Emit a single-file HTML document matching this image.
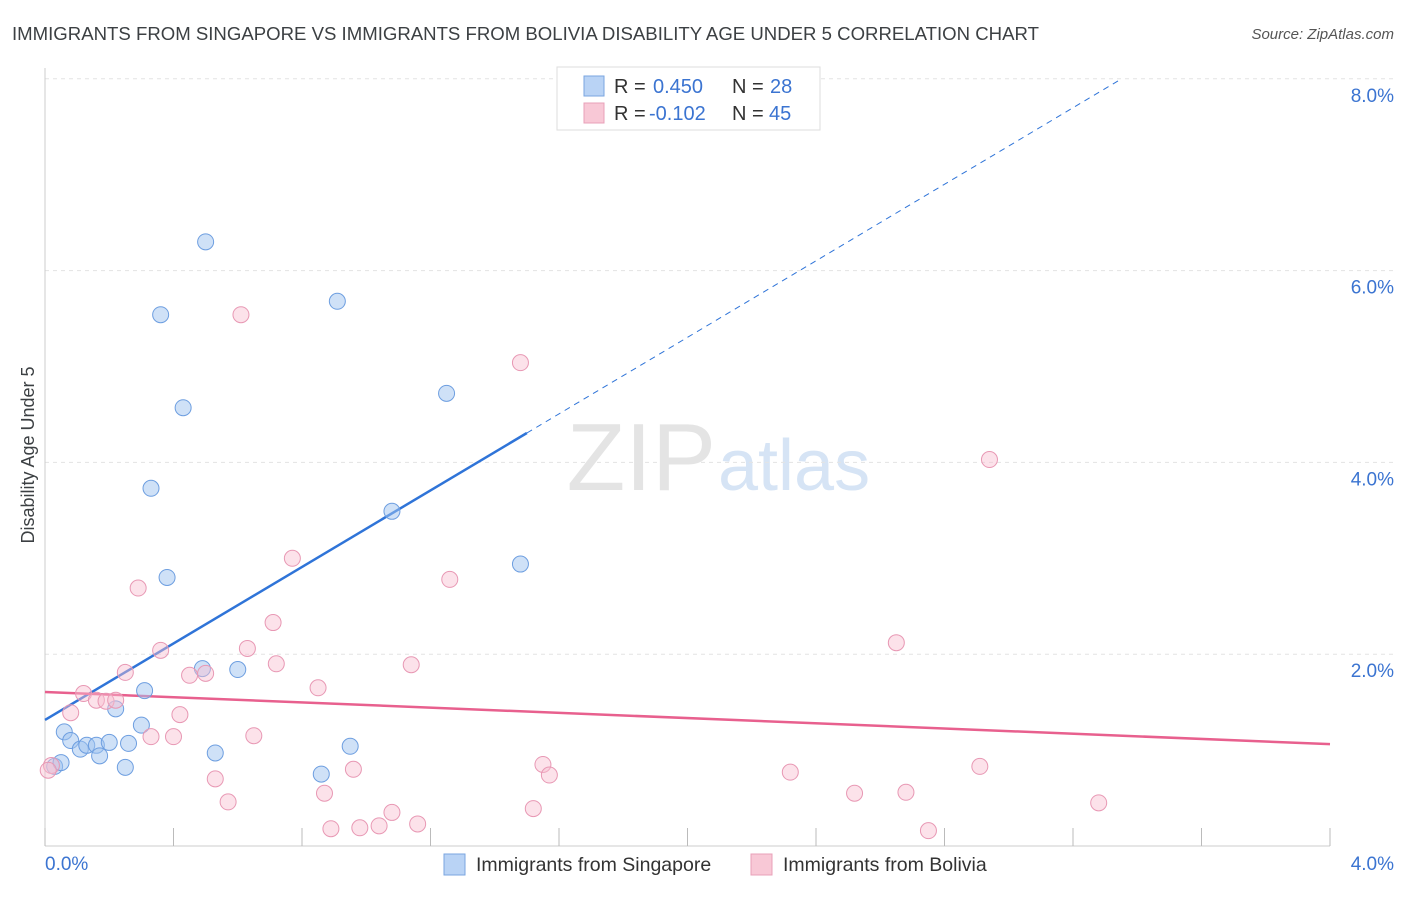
<!DOCTYPE html>
<html><head><meta charset="utf-8"><style>
body{margin:0;background:#fff;font-family:"Liberation Sans",sans-serif;}
svg text{font-family:"Liberation Sans",sans-serif;}
</style></head><body>
<svg width="1406" height="892">
<text x="12" y="40" font-size="18.6" fill="#3c4043">IMMIGRANTS FROM SINGAPORE VS IMMIGRANTS FROM BOLIVIA DISABILITY AGE UNDER 5 CORRELATION CHART</text>
<text x="1394" y="39" font-size="15" fill="#555" font-style="italic" text-anchor="end">Source: ZipAtlas.com</text>
<text x="716" y="490" font-size="96" fill="#e4e4e4" text-anchor="end" font-family="Liberation Serif">ZIP</text>
<text x="718" y="490" font-size="72" fill="#d6e4f5">atlas</text>
<g id="grid"></g><g id="axes"></g><g id="lines"></g><g id="pts"></g>
<text transform="translate(34,455) rotate(-90)" font-size="18" fill="#3c4043" text-anchor="middle">Disability Age Under 5</text>
<text x="45" y="870" font-size="19" fill="#3b74d1">0.0%</text>
<text x="1394" y="870" font-size="19" fill="#3b74d1" text-anchor="end">4.0%</text>
<g>
<rect x="557" y="67" width="263" height="63" fill="#fff" stroke="#ddd"/>
<rect x="584" y="76" width="20" height="20" fill="#b9d3f5" stroke="#7aa6e0"/>
<rect x="584" y="103" width="20" height="20" fill="#f8c8d6" stroke="#e8a0b8"/>
<text x="614" y="93" font-size="20" fill="#333">R =</text>
<text x="653" y="93" font-size="20" fill="#3b74d1">0.450</text>
<text x="732" y="93" font-size="20" fill="#333">N =</text>
<text x="770" y="93" font-size="20" fill="#3b74d1">28</text>
<text x="614" y="120" font-size="20" fill="#333">R =</text>
<text x="649" y="120" font-size="20" fill="#3b74d1">-0.102</text>
<text x="732" y="120" font-size="20" fill="#333">N =</text>
<text x="769" y="120" font-size="20" fill="#3b74d1">45</text>
</g>
<g>
<rect x="444" y="854" width="21" height="21" fill="#b9d3f5" stroke="#7aa6e0"/>
<text x="476" y="871" font-size="19.5" fill="#333">Immigrants from Singapore</text>
<rect x="751" y="854" width="21" height="21" fill="#f8c8d6" stroke="#e8a0b8"/>
<text x="783" y="871" font-size="19.5" fill="#333">Immigrants from Bolivia</text>
</g>
</svg>
<script>
const yTicks=[2,4,6,8];
const yTickLabels=["2.0%","4.0%","6.0%","8.0%"];
const sgX=[0.50,0.36,0.91,0.43,1.25,0.33,1.08,0.38,1.48,0.49,0.60,0.31,0.22,0.30,0.06,0.08,0.11,0.13,0.16,0.20,0.26,0.17,0.53,0.25,0.95,0.86,0.03,0.05];
const sgY=[6.30,5.54,5.68,4.57,4.72,3.73,3.49,2.80,2.94,1.85,1.84,1.62,1.43,1.26,1.19,1.10,1.01,1.05,1.05,1.08,1.07,0.94,0.97,0.82,1.04,0.75,0.83,0.87];
const boX=[0.61,1.48,2.94,0.77,1.26,0.29,0.71,2.65,0.36,0.63,0.72,1.14,0.25,0.45,0.50,0.85,0.12,0.16,0.19,0.22,0.08,0.42,0.33,0.40,0.65,0.02,0.01,1.55,1.57,0.96,0.53,2.32,2.91,0.87,2.52,2.68,0.57,3.28,1.08,1.52,1.16,1.04,0.89,0.98,2.75];
const boY=[5.54,5.04,4.03,3.00,2.78,2.69,2.33,2.12,2.04,2.06,1.90,1.89,1.81,1.78,1.80,1.65,1.59,1.52,1.51,1.52,1.39,1.37,1.14,1.14,1.15,0.84,0.79,0.85,0.74,0.80,0.70,0.77,0.83,0.55,0.55,0.56,0.46,0.45,0.35,0.39,0.23,0.21,0.18,0.19,0.16];
const sgFit=[1.314,1.995]; const boFit=[1.606,-0.136];
const NS="http://www.w3.org/2000/svg";
const X=v=>45+v/4*1285, Y=v=>846-v*95.9;
function mk(t,a,p){const e=document.createElementNS(NS,t);for(const k in a)e.setAttribute(k,a[k]);document.getElementById(p).appendChild(e);return e;}
yTicks.forEach((t,i)=>{const g=mk('line',{x1:45,x2:1394,y1:Y(t),y2:Y(t),stroke:'#e3e3e3','stroke-dasharray':'4,4'},'grid');


const l=mk('text',{x:1394,y:Y(t)+23,'font-size':19,fill:'#3b74d1','text-anchor':'end'},'grid');l.textContent=yTickLabels[i];

});
mk('line',{x1:45,x2:45,y1:68,y2:846,stroke:'#ccc'},'axes');
mk('line',{x1:45,x2:1330,y1:846,y2:846,stroke:'#ccc'},'axes');
for(let i=0;i<=10;i++){const t=mk('line',{x1:X(i*0.4),x2:X(i*0.4),y1:828,y2:846,stroke:'#bbb'},'axes');

}
const xe=1.5, xd=(8.0-sgFit[0])/sgFit[1];
let a=mk('line',{x1:X(0),y1:Y(sgFit[0]),x2:X(xe),y2:Y(sgFit[0]+sgFit[1]*xe),stroke:'#2f74d8','stroke-width':2.5},'lines');


a=mk('line',{x1:X(xe),y1:Y(sgFit[0]+sgFit[1]*xe),x2:X(xd),y2:Y(8.0),stroke:'#2f74d8','stroke-width':1,'stroke-dasharray':'6,5'},'lines');


a=mk('line',{x1:X(0),y1:Y(boFit[0]),x2:X(4),y2:Y(boFit[0]+boFit[1]*4),stroke:'#e8608e','stroke-width':2.5},'lines');


sgX.forEach((x,i)=>{const c=mk('circle',{cx:X(x),cy:Y(sgY[i]),r:8,fill:'rgba(160,196,240,0.5)',stroke:'#6d9ee0','stroke-width':1},'pts');

});
boX.forEach((x,i)=>{const c=mk('circle',{cx:X(x),cy:Y(boY[i]),r:8,fill:'rgba(248,190,208,0.45)',stroke:'#e898b4','stroke-width':1},'pts');

});
</script>
</body></html>
